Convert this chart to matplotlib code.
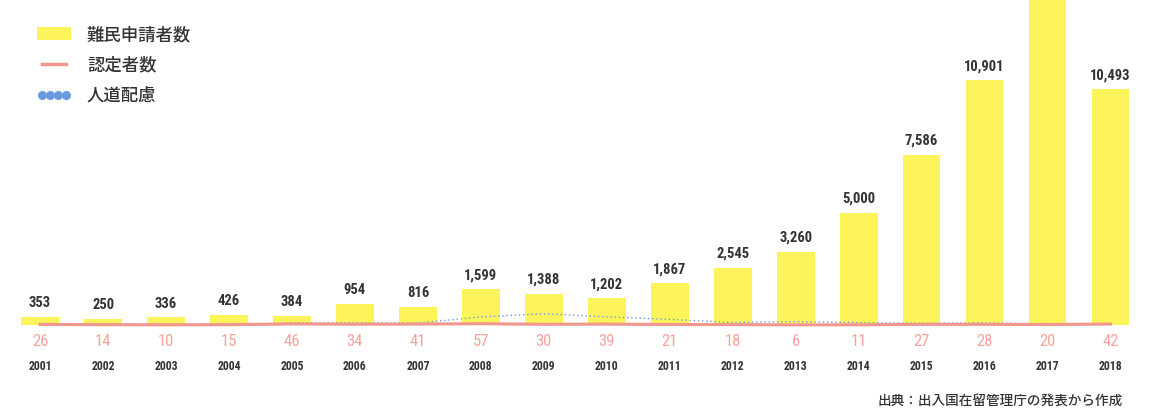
import matplotlib.pyplot as plt
from matplotlib.patches import Patch
from matplotlib.lines import Line2D
from matplotlib import font_manager

plt.rcParams['font.family'] = ['Noto Sans CJK JP', 'DejaVu Sans']

years = [str(y) for y in range(2001, 2019)]
applicants = [353, 250, 336, 426, 384, 954, 816, 1599, 1388, 1202,
              1867, 2545, 3260, 5000, 7586, 10901, 19629, 10493]
recognized = [26, 14, 10, 15, 46, 34, 41, 57, 30, 39,
              21, 18, 6, 11, 27, 28, 20, 42]
humanitarian = [67, 40, 16, 9, 97, 97, 88, 360, 501, 363,
                248, 112, 151, 110, 79, 97, 45, 40]

yellow = '#fcf45a'
red = '#f3968e'
red_text = '#f5a39c'
blue = '#6a9be0'
dark = '#333333'

# condensed font for the numbers, first one that is installed
names = {f.name for f in font_manager.fontManager.ttflist}
num_font = 'DejaVu Sans'
for cand in ['Roboto Condensed', 'Archivo Narrow', 'PT Sans Narrow', 'Liberation Sans Narrow']:
    if cand in names:
        num_font = cand
        break

fig = plt.figure(figsize=(11.64, 4.11), dpi=100)
ax = fig.add_axes([0, 0, 1, 1])
x = list(range(len(years)))

ax.bar(x, applicants, width=0.6, color=yellow, zorder=1)
ax.plot(x, humanitarian, color=blue, lw=1.0, ls=(0, (1, 2)), zorder=2)
ax.plot(x, recognized, color=red, lw=2.2, zorder=3)

for i, v in enumerate(applicants):
    ax.annotate(f'{v:,}', (i, v), xytext=(0, 5), textcoords='offset points',
                ha='center', va='bottom', fontsize=10.5, fontweight='bold',
                color=dark, family=num_font)
    ax.annotate(str(recognized[i]), (i, 0), xytext=(0, -12), textcoords='offset points',
                ha='center', va='center', fontsize=12, color=red_text,
                family=num_font)
    ax.annotate(years[i], (i, 0), xytext=(0, -30), textcoords='offset points',
                ha='center', va='center', fontsize=8.5, fontweight='bold',
                color=dark, family=num_font)

ax.set_xlim(-0.637, 17.85)
ax.set_ylim(-3827, 14462)
ax.axis('off')

handles = [
    Patch(facecolor=yellow, edgecolor='none'),
    Line2D([], [], color=red, lw=2.5),
    Line2D([], [], color=blue, lw=0, marker='o', markersize=5.5),
]
leg = ax.legend(handles, ['難民申請者数', '認定者数', '人道配慮'],
                loc='upper left', bbox_to_anchor=(0.018, 0.975), frameon=False,
                fontsize=12.5, handlelength=2.0, handleheight=0.75,
                handletextpad=0.9, labelspacing=0.72, numpoints=4)
for t in leg.get_texts():
    t.set_color(dark)
    t.set_fontweight('medium')

fig.text(0.965, 0.005, '出典：出入国在留管理庁の発表から作成', ha='right', va='bottom',
         fontsize=9.8, color=dark, fontweight='medium')

fig.savefig('out.png', dpi=100)
